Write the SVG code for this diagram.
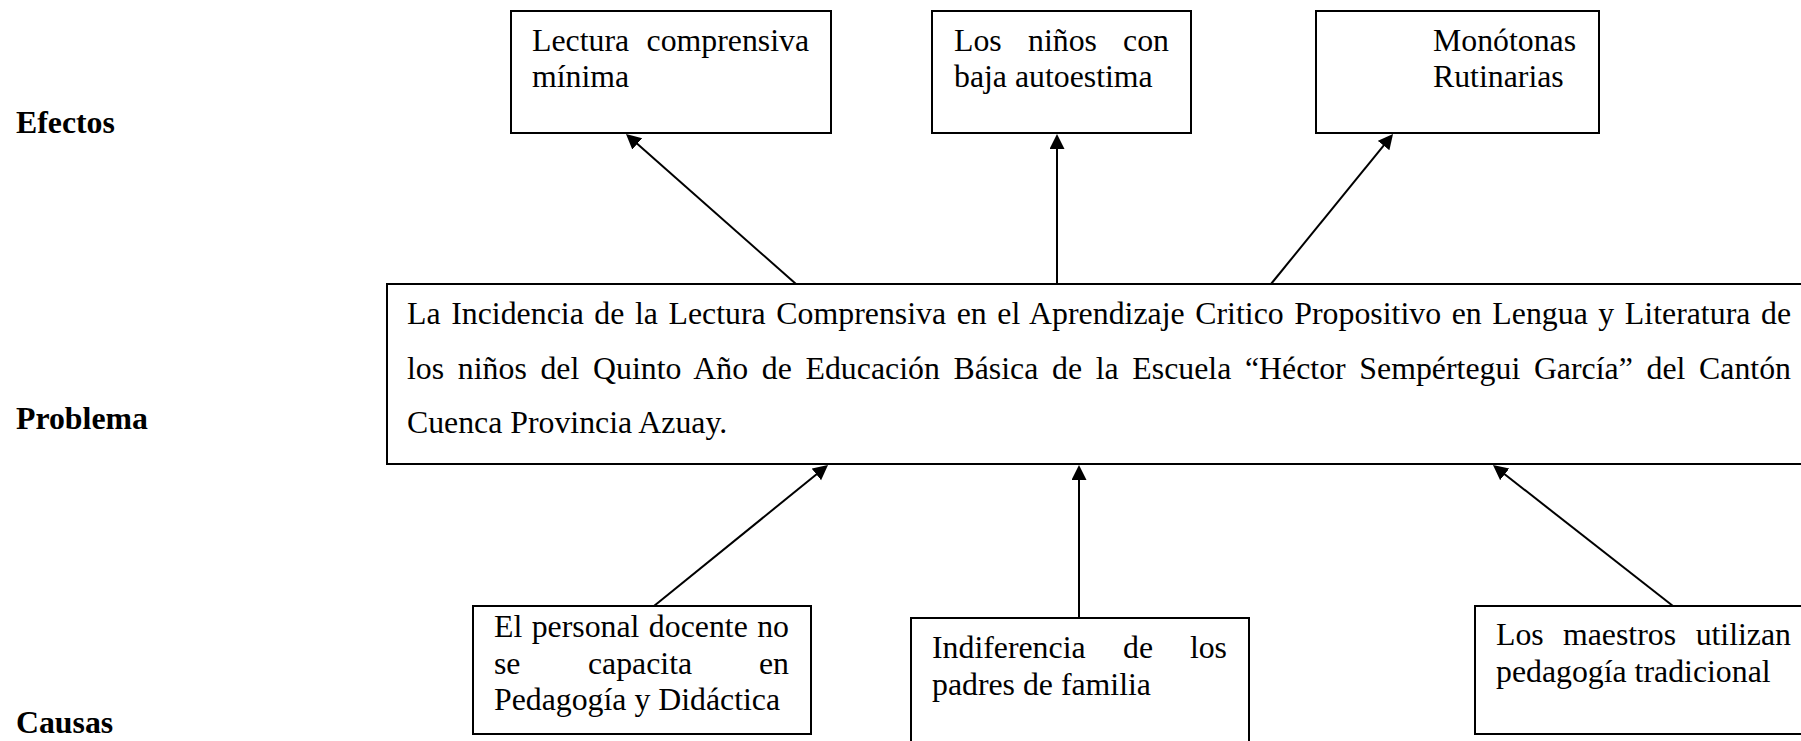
<svg xmlns="http://www.w3.org/2000/svg" width="1801" height="741" viewBox="0 0 1801 741">
<style>
.box{fill:#fff;stroke:#000;stroke-width:2}
.t{font-family:"Liberation Serif","Times New Roman",serif;font-size:31.8px;fill:#000}
.lbl{font-family:"Liberation Serif","Times New Roman",serif;font-size:31.8px;font-weight:bold;fill:#000}
.conn line{stroke:#000;stroke-width:2;fill:none}
</style>
<defs>
<marker id="ah" markerUnits="userSpaceOnUse" markerWidth="16" markerHeight="16" viewBox="0 0 16 16" refX="11" refY="7.5" orient="auto">
<path d="M0,0 L15,7.5 L0,15 z" fill="#000"/>
</marker>
</defs>
<rect width="1801" height="741" fill="#fff"/>

<g id="labels">
<text class="lbl" x="16" y="133">Efectos</text>
<text class="lbl" x="16" y="429">Problema</text>
<text class="lbl" x="16" y="733">Causas</text>
</g>

<g id="efecto1">
<rect class="box" x="511" y="11" width="320" height="122"/>
<text class="t" y="51"><tspan x="532">Lectura</tspan><tspan x="809" text-anchor="end">comprensiva</tspan></text>
<text class="t" x="532" y="87">mínima</text>
</g>

<g id="efecto2">
<rect class="box" x="932" y="11" width="259" height="122"/>
<text class="t" y="51"><tspan x="954">Los</tspan><tspan x="1028">niños</tspan><tspan x="1169" text-anchor="end">con</tspan></text>
<text class="t" x="954" y="87">baja autoestima</text>
</g>

<g id="efecto3">
<rect class="box" x="1316" y="11" width="283" height="122"/>
<text class="t" x="1433" y="51">Monótonas</text>
<text class="t" x="1433" y="87">Rutinarias</text>
</g>

<g id="problema">
<rect class="box" x="387" y="284" width="1425" height="180"/>
<text class="t" x="407" y="324" textLength="1384" lengthAdjust="spacing" style="word-spacing:2.6px">La Incidencia de la Lectura Comprensiva en el Aprendizaje Critico Propositivo en Lengua y Literatura de</text>
<text class="t" x="407" y="378.5" textLength="1384" lengthAdjust="spacing" style="word-spacing:5.7px">los niños del Quinto Año de Educación Básica de la Escuela “Héctor Sempértegui García” del Cantón</text>
<text class="t" x="407" y="433">Cuenca Provincia Azuay.</text>
</g>

<g id="causa1">
<rect class="box" x="473" y="606" width="338" height="128"/>
<text class="t" x="494" y="637" textLength="295" lengthAdjust="spacing" style="word-spacing:1.5px">El personal docente no</text>
<text class="t" y="673.5"><tspan x="494">se</tspan><tspan x="588">capacita</tspan><tspan x="789" text-anchor="end">en</tspan></text>
<text class="t" x="494" y="710">Pedagogía y Didáctica</text>
</g>

<g id="causa2">
<rect class="box" x="911" y="618" width="338" height="135"/>
<text class="t" y="658"><tspan x="932">Indiferencia</tspan><tspan x="1123">de</tspan><tspan x="1227" text-anchor="end">los</tspan></text>
<text class="t" x="932" y="695">padres de familia</text>
</g>

<g id="causa3">
<rect class="box" x="1475" y="606" width="340" height="128"/>
<text class="t" y="645"><tspan x="1496">Los</tspan><tspan x="1563">maestros</tspan><tspan x="1791" text-anchor="end">utilizan</tspan></text>
<text class="t" x="1496" y="682">pedagogía tradicional</text>
</g>

<g id="connectors" class="conn">
<line x1="796" y1="284" x2="629" y2="136.6" marker-end="url(#ah)"/>
<line x1="1057" y1="284" x2="1057" y2="138" marker-end="url(#ah)"/>
<line x1="1271" y1="284" x2="1390.5" y2="137.1" marker-end="url(#ah)"/>
<line x1="654" y1="606" x2="824.9" y2="467.5" marker-end="url(#ah)"/>
<line x1="1079" y1="618" x2="1079" y2="469" marker-end="url(#ah)"/>
<line x1="1673" y1="606" x2="1496.1" y2="467.5" marker-end="url(#ah)"/>
</g>
</svg>
